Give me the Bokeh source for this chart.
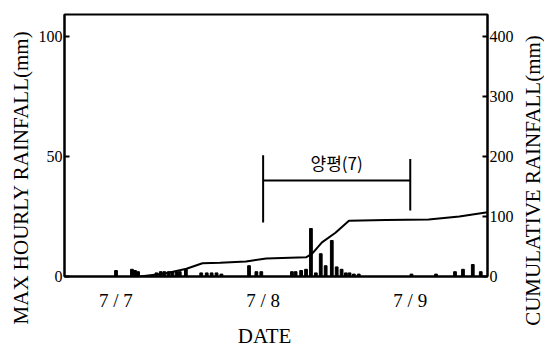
import math
from bokeh.plotting import figure
from bokeh.layouts import row, column
from bokeh.models import Range1d, LinearAxis, FixedTicker
from bokeh.embed import file_html
from bokeh.resources import INLINE
from bokeh.core.properties import value

# Hours counted from the 7/7 date mark
bar_hours = [0.0, 2.6, 3.1, 3.6, 6.6, 7.3, 7.9, 8.6, 9.2, 9.9, 10.4, 11.4,
             13.9, 14.8, 15.6, 16.4, 17.2, 21.7, 22.9, 23.7,
             28.7, 29.3, 30.2, 31.0, 31.8, 32.6, 33.4, 34.2, 35.2, 36.0,
             36.8, 37.5, 38.1, 38.8, 39.6,
             48.2, 52.2, 55.3, 56.6, 58.2, 59.5]
hourly_mm = [2.5, 3.0, 2.5, 2.0, 1.5, 2.0, 2.0, 2.0, 2.0, 2.0, 2.0, 3.0,
             1.5, 1.5, 1.5, 1.5, 1.0, 4.5, 2.0, 2.0,
             2.0, 2.0, 2.5, 3.0, 20.0, 1.5, 9.5, 4.5, 15.0, 4.0,
             3.0, 1.5, 1.5, 1.0, 1.0,
             1.0, 1.0, 2.0, 3.0, 5.0, 2.0]

cum_hours = [3.9, 8.0, 11.5, 14.1, 17.0, 21.2, 24.5, 31.0, 32.0, 33.6,
             35.8, 38.0, 44.0, 51.0, 56.0, 60.6]
cum_mm = [0, 5, 13, 22, 23, 25, 30, 32, 38, 57, 73, 93, 94, 95, 100, 107]

day_ticks = [0, 24, 48]
day_labels = ["7 / 7", "7 / 8", "7 / 9"]
left_ticks = [0, 50, 100]
right_ticks = [0, 100, 200, 300, 400]

period_start, period_end = 24, 48
period_label = "양평(7)"

left_title = "MAX HOURLY RAINFALL(mm)"
right_title = "CUMULATIVE RAINFALL(mm)"
bottom_title = "DATE"

serif = "'Liberation Serif'"
X0, X1 = -8.4, 60.6
Y1 = 109.2

p = figure(width=482, height=317, output_backend="svg", toolbar_location=None,
           x_range=Range1d(X0, X1), y_range=Range1d(0, Y1),
           min_border_left=30, min_border_right=26, min_border_top=14,
           min_border_bottom=41, background_fill_color="white",
           border_fill_color="white")
p.extra_y_ranges = {"cum": Range1d(0, Y1 * 4)}

p.xgrid.visible = False
p.ygrid.visible = False
p.outline_line_color = "black"
p.outline_line_width = 2

# hourly maxima
p.vbar(x=bar_hours, top=hourly_mm, width=0.45, color="black")

# cumulative rainfall on the right scale
p.line(cum_hours, cum_mm, y_range_name="cum", line_color="black", line_width=2)

# event period bracket
p.segment(x0=[period_start], y0=[40], x1=[period_end], y1=[40],
          line_color="black", line_width=2)
p.segment(x0=[period_start, period_end], y0=[22.5, 27.5],
          x1=[period_start, period_end], y1=[50.5, 49],
          line_color="black", line_width=2)
p.text(x=[(period_start + period_end) / 2], y=[47.5], text=[period_label],
       text_font=value("Noto Sans CJK KR"), text_font_size="17px",
       text_align="center", text_baseline="middle", text_color="black")

# axes
xa = p.xaxis[0]
xa.ticker = FixedTicker(ticks=day_ticks)
xa.major_label_overrides = {t: s for t, s in zip(day_ticks, day_labels)}

ya = p.yaxis[0]
ya.ticker = FixedTicker(ticks=left_ticks)

ra = LinearAxis(y_range_name="cum", ticker=FixedTicker(ticks=right_ticks))
p.add_layout(ra, "right")

for ax in (xa, ya, ra):
    ax.axis_line_width = 2
    ax.axis_line_color = "black"
    ax.major_tick_in = 5
    ax.major_tick_out = 0
    ax.major_tick_line_width = 2
    ax.minor_tick_line_color = None
    ax.major_label_text_font = serif
    ax.major_label_text_font_size = "16px"
    ax.major_label_text_color = "black"

xa.major_tick_line_color = None
xa.major_label_text_font_size = "19px"
xa.major_label_standoff = 13
ya.major_label_standoff = 2
ra.major_label_standoff = 2


def title_strip(w, h, x, y, text, angle):
    """Narrow blank figure (pixel coordinates) holding one axis title."""
    f = figure(width=w, height=h, output_backend="svg", toolbar_location=None,
               x_range=Range1d(0, w), y_range=Range1d(0, h), min_border=0,
               x_axis_location=None, y_axis_location=None,
               outline_line_color=None, background_fill_color="white",
               border_fill_color="white")
    f.grid.visible = False
    f.text(x=[x], y=[y], text=[text], angle=angle, text_align="center",
           text_baseline="middle", text_font=value(serif),
           text_font_size="21px", text_color="black")
    return f


left_strip = title_strip(34, 347, 20, 170, left_title, math.pi / 2)
right_strip = title_strip(28, 347, 16, 167, right_title, math.pi / 2)
date_strip = title_strip(482, 30, 228, 12, bottom_title, 0)

layout = row(left_strip, column(p, date_strip, spacing=0), right_strip,
             spacing=0)

open("out.html", "w").write(file_html(layout, INLINE))
